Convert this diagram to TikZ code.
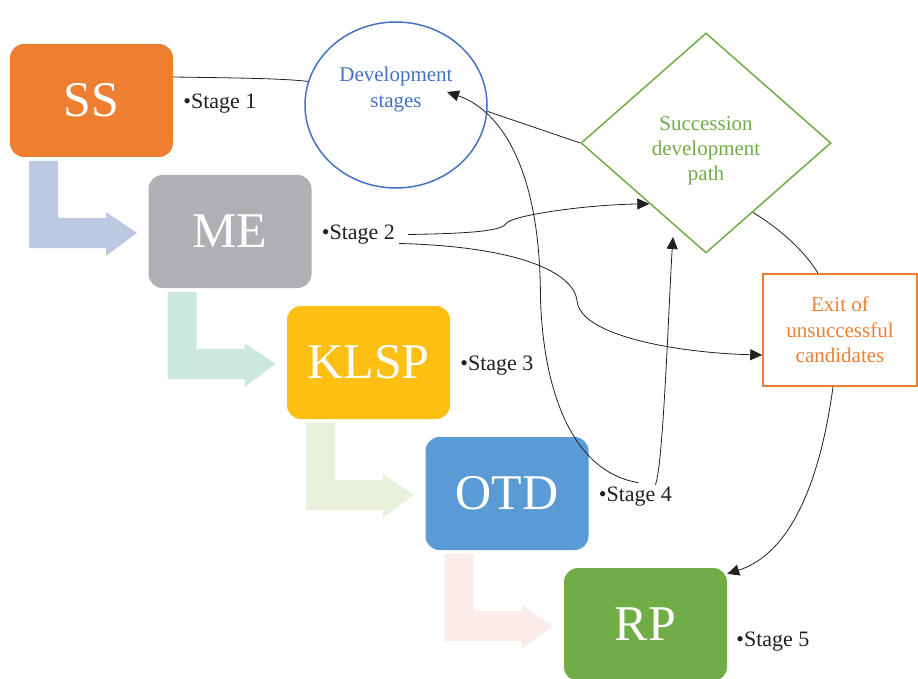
\documentclass[tikz,border=0pt]{standalone}
\usepackage{fontspec}
\setmainfont{Liberation Serif}
\usetikzlibrary{arrows.meta,positioning,shapes.geometric}

\definecolor{ssorange}{HTML}{EE7E30}
\definecolor{megray}{HTML}{AFB0B3}
\definecolor{klspyellow}{HTML}{FCBF12}
\definecolor{otdblue}{HTML}{5B9BD5}
\definecolor{rpgreen}{HTML}{70AD47}
\definecolor{devblue}{HTML}{4472C4}
\definecolor{txtblack}{HTML}{231F20}
\definecolor{arrblue}{HTML}{BDC9E3}
\definecolor{arrteal}{HTML}{CDE8DF}
\definecolor{arrgreen}{HTML}{E9F1DC}
\definecolor{arrpink}{HTML}{FCECE9}

\tikzset{
  stagebox/.style={rectangle, rounded corners=14pt, minimum width=163pt,
    minimum height=113pt, inner sep=0pt, text=white,
    font=\fontsize{50}{56}\selectfont},
  stagetxt/.style={inner sep=2pt, text=txtblack, yshift=-3pt,
    font=\fontsize{22}{26}\selectfont},
  link/.style={txtblack, line width=0.8pt},
  linkarrow/.style={link, -{Triangle[length=12pt,width=11pt]}},
}

\begin{document}
\begin{tikzpicture}[x=1pt, y=-1pt]
	\useasboundingbox (0,0) rectangle (918,679);

	% bent arrows between the stages
	\foreach \i/\col in {0/arrblue, 1/arrteal, 2/arrgreen, 3/arrpink}{
		\fill[\col, shift={(138.5*\i,131*\i)}] (29,161) -- ++(29,0) -- ++(0,57)
			-- ++(48,0) -- ++(0,-6) -- ++(31,21) -- ++(-31,23) -- ++(0,-8)
			-- ++(-77,0) -- cycle;
	}

	\node[stagebox, fill=ssorange] at (91.5, 100.5) (ss) {SS};
	\node[stagebox, fill=megray] at (230, 231.5) (me) {ME};
	\node[stagebox, fill=klspyellow] at (368.5, 362.5) (klsp) {KLSP};
	\node[stagebox, fill=otdblue] at (507, 493.5) (otd) {OTD};
	\node[stagebox, fill=rpgreen] at (645.5, 624.5) (rp) {RP};

	\node[stagetxt, right=8pt of ss] (st1) {\textbullet Stage 1};
	\node[stagetxt, right=8pt of me] (st2) {\textbullet Stage 2};
	\node[stagetxt, right=8pt of klsp] (st3) {\textbullet Stage 3};
	\node[stagetxt, right=8pt of otd] (st4) {\textbullet Stage 4};
	\node[stagetxt, right=7pt of rp, yshift=-14pt] (st5) {\textbullet Stage 5};

	\node[ellipse, draw=devblue, line width=1.5pt, minimum width=182pt,
		minimum height=166pt,
		label={[yshift=16pt, text=devblue, align=center,
			font=\fontsize{21}{26}\selectfont]center:Development\\stages}]
		at (396, 105) (devst) {};

	\node[diamond, draw=rpgreen, line width=1.5pt, minimum width=250pt,
		minimum height=220pt,
		label={[yshift=-8pt, text=rpgreen, align=center,
			font=\fontsize{21}{25}\selectfont]center:Succession\\development\\path}]
		at (706, 143) (sdp) {};

	\node[rectangle, draw=ssorange, line width=1.5pt, minimum width=154pt,
		minimum height=112pt, text=ssorange, align=center,
		font=\fontsize{21}{25.5}\selectfont] at (840, 330) (exit)
		{Exit of\\unsuccessful\\candidates};

	% connectors
	\draw[link] ([yshift=23.5pt]ss.east) .. controls +(67,1) and +(-26,-3) .. (devst.165);
	\draw[link] (devst.-4) -- (sdp.west);
	\draw[link] (sdp.-56) .. controls +(32,19) and +(-10,-17) .. ([xshift=-22pt]exit.north);

	\draw[linkarrow] ([xshift=11pt]st2.east) .. controls +(58,-1) and +(-5,8) .. ++(98,-11)
		.. controls +(5,-8) and +(-65,1) .. (sdp.-133);
	\draw[linkarrow] ([xshift=2pt,yshift=-9pt]st2.east) .. controls +(117,3) and +(-3,-30) .. ++(178,58)
		.. controls +(4,35) and +(-82,-2) .. ([yshift=-25pt]exit.west);

	\draw[linkarrow] ([xshift=3pt,yshift=2pt]st4.north) .. controls +(-63,-10) and +(3,100) .. ++(-98,-185)
		.. controls +(0,-130) and +(53,18) .. ([xshift=51pt,yshift=13pt]devst.center);
	\draw[linkarrow] ([xshift=20pt]st4.north) .. controls +(8,-20) and +(-4,60)
		.. ([xshift=-33pt,yshift=-94pt]sdp.center);

	\draw[linkarrow] ([xshift=-7pt]exit.south) .. controls +(-13,96) and +(63,-20)
		.. ([yshift=-6pt]rp.north east);
\end{tikzpicture}
\end{document}
